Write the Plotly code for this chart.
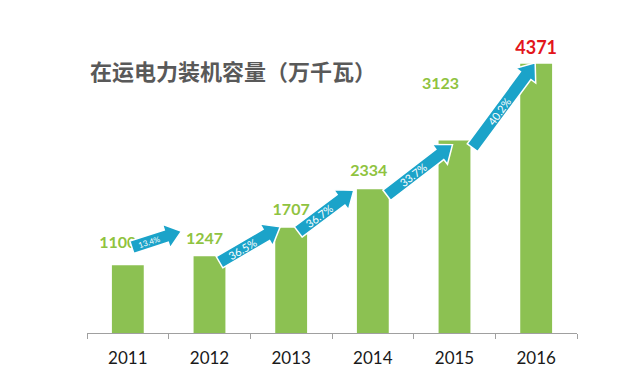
import math
import plotly.graph_objects as go

years = ["2011", "2012", "2013", "2014", "2015", "2016"]
capacity = [1100, 1247, 1707, 2334, 3123, 4371]
growth_labels = ["13.4%", "36.5%", "36.7%", "33.7%", "40.2%"]
title_text = "在运电力装机容量（万千瓦）"

# ---- layout geometry (pixels, figure coordinates; page has an 8px body margin) ----
W, H = 625, 381
ML, MR, MT, MB = 79, 56, 12, 56
PW, PH = W - ML - MR, H - MT - MB
K = 0.0616                      # px per unit
YMAX = PH / K
CAT = PW / 6.0                  # px per category

def px(xd, yd):
    return ML + (xd + 0.5) * CAT, MT + PH - yd * K

def dat(pxx, pyy):
    return (pxx - ML) / CAT - 0.5, (MT + PH - pyy) / K

# style: pixel offsets for label placement (xshift, yshift up)
label_shift = [(-10, 21), (-5, 16), (0, 17), (-4, 17), (-14, 56), (0, 14)]
label_colors = ["#8fc340"] * 5 + ["#e3151b"]
label_sizes = [16, 16, 16, 16, 16, 18]
# style: arrow endpoint offsets from (bar centre, bar top): dx0, dy0, dx1, dy1 (down +)
arrow_off = [(4, -18, -28, -25), (10, 6, -11, -1), (7, 4, -19, 1),
             (14, 6, -2, 4), (18, 7, -1, -1)]
pct_sizes = [8, 11, 11, 11, 11]

BAR = "#8cc152"
ARROW = "#1ba3c9"

fig = go.Figure()
xs = list(range(len(years)))
fig.add_trace(go.Bar(x=xs, y=capacity, width=0.39, marker_color=BAR,
                     marker_line_width=0, hoverinfo="skip"))

# value labels as text trace (below arrow shapes)
for i, v in enumerate(capacity):
    cx, cy = px(i, v)
    lx, ly = dat(cx + label_shift[i][0], cy - label_shift[i][1])
    fig.add_trace(go.Scatter(x=[lx], y=[ly], mode="text", text=[str(v)],
                             textposition="middle center",
                             textfont=dict(family="Lato", size=label_sizes[i],
                                           color=label_colors[i], weight="bold"),
                             hoverinfo="skip", showlegend=False))

shapes = []
annotations = []
BW, HW, HL = 6.5, 12.5, 16
for i in range(len(capacity) - 1):
    c0x, c0y = px(i, capacity[i])
    c1x, c1y = px(i + 1, capacity[i + 1])
    d = arrow_off[i]
    x0, y0 = c0x + d[0], c0y + d[1]
    x1, y1 = c1x + d[2], c1y + d[3]
    L = math.hypot(x1 - x0, y1 - y0)
    ux, uy = (x1 - x0) / L, (y1 - y0) / L
    nx, ny = -uy, ux
    bx, by = x1 - ux * HL, y1 - uy * HL
    pts = [
        (x0 + nx * BW, y0 + ny * BW),
        (bx + nx * BW, by + ny * BW),
        (bx + nx * HW, by + ny * HW),
        (x1, y1),
        (bx - nx * HW, by - ny * HW),
        (bx - nx * BW, by - ny * BW),
        (x0 - nx * BW, y0 - ny * BW),
    ]
    dpts = [dat(a, b) for a, b in pts]
    path = "M " + " L ".join(f"{a:.5f},{b:.3f}" for a, b in dpts) + " Z"
    shapes.append(dict(type="path", path=path, xref="x", yref="y",
                       fillcolor=ARROW, line=dict(color="white", width=1.5),
                       layer="above"))
    mx, my = x0 + (bx - x0) * 0.5, y0 + (by - y0) * 0.5
    ang = math.degrees(math.atan2(-(y1 - y0), x1 - x0))
    mdx, mdy = dat(mx, my)
    annotations.append(dict(x=mdx, y=mdy, xref="x", yref="y", text=growth_labels[i],
                            showarrow=False, textangle=-ang,
                            font=dict(family="Lato", size=pct_sizes[i], color="white")))

annotations.append(dict(x=(80 - ML) / PW, y=(MT + PH - 62) / PH, xref="paper", yref="paper",
                        xanchor="left", yanchor="middle", showarrow=False,
                        text=title_text,
                        font=dict(family="Noto Sans CJK SC", size=22, color="#595959",
                                  weight="bold")))

fig.update_layout(
    width=W, height=H, margin=dict(l=ML, r=MR, t=MT, b=MB),
    paper_bgcolor="white", plot_bgcolor="white", showlegend=False,
    shapes=shapes, annotations=annotations,
    xaxis=dict(range=[-0.5, 5.5], tickmode="array", tickvals=xs, ticktext=years,
               ticks="", showgrid=False, zeroline=False, showline=True,
               linecolor="#a0a0a0", linewidth=1, ticklabelstandoff=10,
               tickfont=dict(family="Lato", size=17, color="#1a1a1a"),
               minor=dict(ticks="outside", ticklen=5, tick0=0.5, dtick=1,
                          tickcolor="#a0a0a0", showgrid=False)),
    yaxis=dict(range=[0, YMAX], visible=False, showgrid=False, zeroline=False),
)

fig.write_html("out.html")
